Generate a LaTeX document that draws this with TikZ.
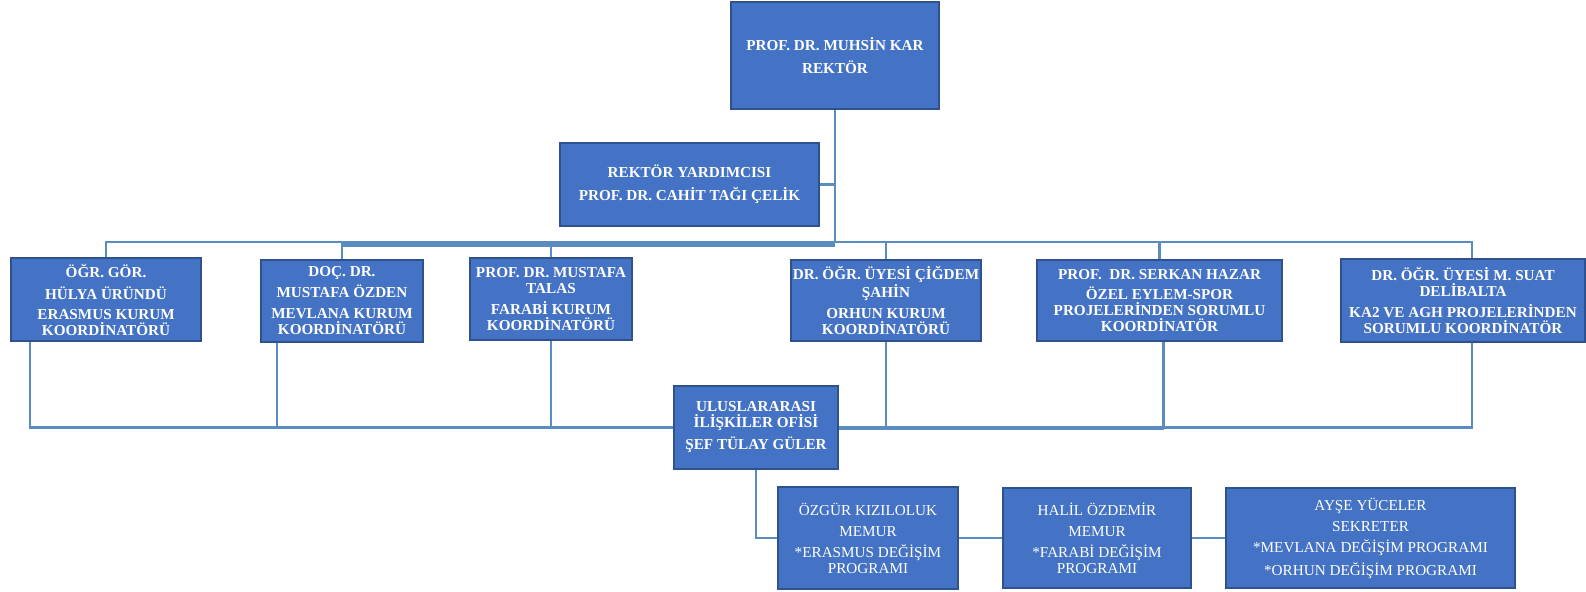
\documentclass[tikz,border=0pt]{standalone}
\usepackage{fontspec}
\setmainfont{Liberation Serif}
\usetikzlibrary{calc}
\definecolor{boxfill}{HTML}{4472C4}
\definecolor{boxline}{HTML}{2F528F}
\definecolor{linkcol}{HTML}{5B8CC0}

\begin{document}
\begin{tikzpicture}[x=0.5pt, y=-0.5pt,
    box/.style={draw=boxline, line width=1pt, fill=boxfill, text=white, align=center,
      inner sep=0.5pt, font=\fontsize{7.6}{8}\selectfont\bfseries},
    staff/.style={box, font=\fontsize{7.6}{8}\selectfont},
    link/.style={draw=linkcol, line width=1.2pt},
    heavy/.style={link, line width=2pt}]
  \useasboundingbox (0,0) rectangle (1586,591);

  % management
  \node[box, minimum width=104pt, minimum height=53.5pt] (rektor) at (835,55.5)
    {PROF. DR. MUHSİN KAR\\[3.5pt] REKTÖR};
  \node[box, minimum width=129.5pt, minimum height=41.5pt] (vice) at (689.5,184.5)
    {REKTÖR YARDIMCISI\\[3.5pt] PROF. DR. CAHİT TAĞI ÇELİK};

  % coordinators
  \node[box, minimum width=95pt, minimum height=41.5pt] (erasmus) at (106,299.5)
    {ÖĞR. GÖR.\\[3pt] HÜLYA ÜRÜNDÜ\\[2pt] ERASMUS KURUM\\ KOORDİNATÖRÜ};
  \node[box, minimum width=81pt, minimum height=41pt] (mevlana) at (342,301)
    {DOÇ. DR.\\[2.5pt] MUSTAFA ÖZDEN\\[2.5pt] MEVLANA KURUM\\ KOORDİNATÖRÜ};
  \node[box, minimum width=81pt, minimum height=41pt] (farabi) at (551,299)
    {PROF. DR. MUSTAFA\\ TALAS\\[2.5pt] FARABİ KURUM\\ KOORDİNATÖRÜ};
  \node[box, minimum width=95pt, minimum height=40.5pt] (orhun) at (886,300.5)
    {DR. ÖĞR. ÜYESİ ÇİĞDEM\\ ŞAHİN\\[2.5pt] ORHUN KURUM\\ KOORDİNATÖRÜ};
  \node[box, minimum width=122.5pt, minimum height=40.5pt] (spor) at (1159.5,300.5)
    {PROF.\ \ DR. SERKAN HAZAR\\[2pt] ÖZEL EYLEM-SPOR\\ PROJELERİNDEN SORUMLU\\ KOORDİNATÖR};
  \node[box, minimum width=122pt, minimum height=41.5pt] (katwo) at (1463,300.5)
    {DR. ÖĞR. ÜYESİ M. SUAT\\ DELİBALTA\\[2.5pt] KA2 VE AGH PROJELERİNDEN\\ SORUMLU KOORDİNATÖR};

  % office and staff
  \node[box, minimum width=82pt, minimum height=41.5pt] (ofis) at (756,427.5)
    {ULUSLARARASI\\ İLİŞKİLER OFİSİ\\[3pt] ŞEF TÜLAY GÜLER};
  \node[staff, minimum width=90pt, minimum height=51pt] (memura) at (868,538)
    {ÖZGÜR KIZILOLUK\\[2.5pt] MEMUR\\[2.5pt] *ERASMUS DEĞİŞİM\\ PROGRAMI};
  \node[staff, minimum width=94pt, minimum height=50pt] (memurb) at (1097,538)
    {HALİL ÖZDEMİR\\[2.5pt] MEMUR\\[2.5pt] *FARABİ DEĞİŞİM\\ PROGRAMI};
  \node[staff, minimum width=144.5pt, minimum height=50pt] (sekreter) at (1370.5,538)
    {AYŞE YÜCELER\\[2.5pt] SEKRETER\\[2.5pt] *MEVLANA DEĞİŞİM PROGRAMI\\[2.5pt] *ORHUN DEĞİŞİM PROGRAMI};

  \coordinate (bus) at (835,242);
  \coordinate (up6) at ([xshift=4.5pt]katwo.north);
  \coordinate (dn1) at ([xshift=10pt]erasmus.south west);
  \coordinate (dn2) at ([xshift=8.5pt]mevlana.south west);
  \coordinate (dn5) at ([xshift=2pt]spor.south);
  \coordinate (dn6) at ([xshift=4.5pt]katwo.south);

  % upper tree
  \draw[link] (rektor.south) -- (bus);
  \draw[link] (vice.east) -- (vice.east -| rektor.south);
  \draw[link] (erasmus.north) -- (erasmus.north |- bus) -- (up6 |- bus) -- (up6);
  \draw[heavy] ($(mevlana.north |- bus)+(0,3)$) -- ($(bus)+(0,3)$);
  \draw[link] (mevlana.north) -- (mevlana.north |- bus);
  \draw[link] (farabi.north) -- (farabi.north |- bus);
  \draw[link] (orhun.north) -- (orhun.north |- bus);
  \draw[link] (spor.north) -- (spor.north |- bus);

  % lower tree
  \draw[link] (dn1) |- (ofis.west);
  \draw[link] (dn2) -- (dn2 |- ofis.west);
  \draw[link] (farabi.south) -- (farabi.south |- ofis.west);
  \draw[heavy] (ofis.east) -- (dn5 |- ofis.east);
  \draw[link] (orhun.south) -- (orhun.south |- ofis.east);
  \draw[link] (dn5) -- (dn5 |- ofis.east) -- (dn6 |- ofis.east) -- (dn6);
  \draw[link] (ofis.south) |- (memura.west);
  \draw[link] (memura) -- (memurb);
  \draw[link] (memurb) -- (sekreter);
\end{tikzpicture}
\end{document}
